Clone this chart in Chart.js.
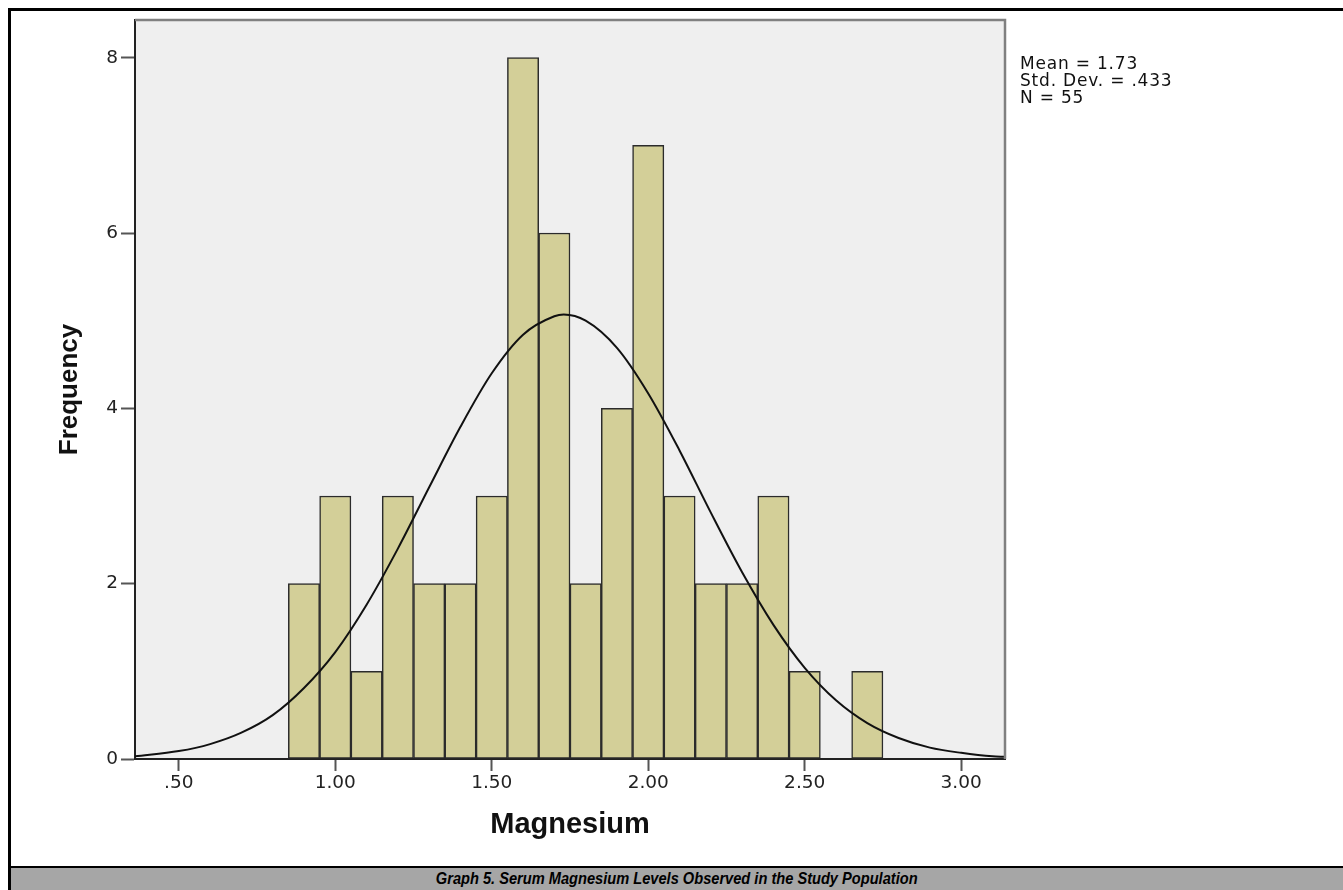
<!DOCTYPE html>
<html>
<head>
<meta charset="utf-8">
<title>Magnesium</title>
<script src="https://cdn.jsdelivr.net/npm/chart.js@4.4.1/dist/chart.umd.min.js"></script>
<style>
  html, body { margin: 0; padding: 0; background: #fff; width: 1343px; height: 890px; overflow: hidden; }
  #frame { position: absolute; left: 8px; top: 8px; width: 1335px; height: 858px; border-left: 3px solid #000; border-top: 3px solid #000; box-sizing: border-box; }
  #chart { position: absolute; left: 0; top: 0; }
  #stats { position: absolute; left: 1020px; top: 55px; font: 17px "DejaVu Sans", sans-serif; letter-spacing: 0.8px; line-height: 17px; color: #111; }
  #caption { position: absolute; left: 8px; top: 866px; width: 1335px; height: 24px; box-sizing: border-box; border-top: 2px solid #000; border-left: 3px solid #000; background: #a6a6a6; overflow: hidden; }
  #caption span { display: block; text-align: center; font: italic bold 17px "Liberation Sans", Arial, sans-serif; line-height: 22px; color: #000; transform: scaleX(0.86); transform-origin: 664px 0; }
</style>
</head>
<body>
<div id="frame"></div>
<canvas id="chart" width="1343" height="866"></canvas>
<div id="stats">Mean = 1.73<br>Std. Dev. = .433<br>N = 55</div>
<div id="caption"><span>Graph 5. Serum Magnesium Levels Observed in the Study Population</span></div>
<script>
// Histogram bins (bin centres) and counts
const binCenters = [0.9, 1.0, 1.1, 1.2, 1.3, 1.4, 1.5, 1.6, 1.7, 1.8, 1.9, 2.0, 2.1, 2.2, 2.3, 2.4, 2.5, 2.6, 2.7];
const frequencies = [2, 3, 1, 3, 2, 2, 3, 8, 6, 2, 4, 7, 3, 2, 2, 3, 1, 0, 1];

// Normal curve
const curveX = [0.36, 0.5, 0.6, 0.7, 0.8, 0.9, 1.0, 1.1, 1.2, 1.3, 1.4, 1.5, 1.6, 1.7, 1.73, 1.8, 1.9, 2.0, 2.1, 2.2, 2.3, 2.4, 2.5, 2.6, 2.7, 2.8, 2.9, 3.0, 3.1, 3.14];
const curveY = [0.03, 0.09, 0.17, 0.30, 0.50, 0.81, 1.22, 1.76, 2.40, 3.10, 3.79, 4.40, 4.84, 5.05, 5.07, 5.00, 4.69, 4.17, 3.52, 2.81, 2.13, 1.53, 1.04, 0.67, 0.41, 0.24, 0.13, 0.07, 0.03, 0.025];

// Tick labels
const xTicks = [0.5, 1.0, 1.5, 2.0, 2.5, 3.0];
const yTicks = [0, 2, 4, 6, 8];

const plotFrame = {
  id: "plotFrame",
  beforeDraw(chart) {
    const { ctx, chartArea: a } = chart;
    ctx.save();
    ctx.fillStyle = "#efefef";
    ctx.fillRect(a.left, a.top, a.right - a.left, a.bottom - a.top);
    ctx.restore();
  },
  afterDatasetsDraw(chart) {
    const { ctx, chartArea: a } = chart;
    ctx.save();
    ctx.strokeStyle = "#808080";
    ctx.lineWidth = 2.5;
    ctx.beginPath();
    ctx.moveTo(a.left, a.top);
    ctx.lineTo(a.right, a.top);
    ctx.lineTo(a.right, a.bottom);
    ctx.stroke();
    ctx.restore();
  },
};

new Chart(document.getElementById("chart"), {
  type: "bar",
  data: {
    datasets: [
      {
        type: "line",
        data: curveX.map((x, i) => ({ x: x, y: curveY[i] })),
        borderColor: "#111",
        borderWidth: 2,
        pointRadius: 0,
        fill: false,
        cubicInterpolationMode: "monotone",
        order: 0,
      },
      {
        type: "bar",
        data: binCenters.map((x, i) => ({ x: x, y: frequencies[i] })),
        backgroundColor: "#d3cf98",
        borderColor: "#2b2b2b",
        borderWidth: 1.5,
        borderSkipped: false,
        barPercentage: 1,
        categoryPercentage: 1,
        order: 1,
      },
    ],
  },
  options: {
    responsive: false,
    animation: false,
    devicePixelRatio: 1,
    layout: { padding: { left: 0, top: 20, right: 338, bottom: 0 } },
    plugins: { legend: { display: false }, tooltip: { enabled: false } },
    scales: {
      x: {
        type: "linear",
        min: 0.36,
        max: 3.14,
        offset: false,
        grid: { offset: false, drawOnChartArea: false, drawTicks: true, tickLength: 12, tickWidth: 2, tickColor: "#555" },
        border: { color: "#222", width: 2 },
        ticks: {
          font: { family: "DejaVu Sans", size: 18.5 },
          color: "#222",
          padding: 1,
          maxRotation: 0,
          autoSkip: false,
          callback: (v) => v.toFixed(2).replace(/^0/, ""),
        },
        afterBuildTicks: (s) => { s.ticks = xTicks.map((v) => ({ value: v })); },
        afterFit: (s) => { s.height = 107; },
        title: {
          display: true,
          text: "Magnesium",
          color: "#111",
          font: { family: "Liberation Sans", weight: "bold", size: 29, lineHeight: 1 },
          padding: { top: 0, bottom: 27 },
        },
      },
      y: {
        type: "linear",
        min: 0,
        max: 8.43,
        grid: { drawOnChartArea: false, drawTicks: true, tickLength: 14, tickWidth: 2, tickColor: "#555" },
        border: { color: "#222", width: 2 },
        ticks: {
          font: { family: "DejaVu Sans", size: 18.5 },
          color: "#222",
          padding: 3,
        },
        afterBuildTicks: (s) => { s.ticks = yTicks.map((v) => ({ value: v })); },
        afterFit: (s) => { s.width = 135; },
        title: {
          display: true,
          text: "Frequency",
          color: "#111",
          font: { family: "Liberation Sans", weight: "bold", size: 26, lineHeight: 1 },
          padding: { top: 57, bottom: 0 },
        },
      },
    },
  },
  plugins: [plotFrame],
});
</script>
</body>
</html>
